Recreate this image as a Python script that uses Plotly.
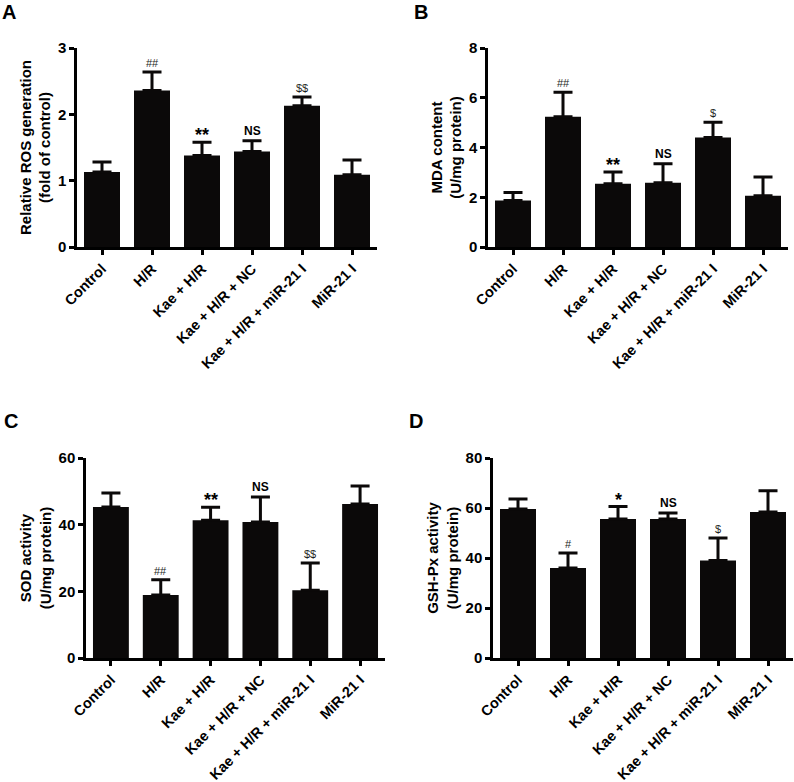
import plotly.graph_objects as go

categories = ["Control", "H/R", "Kae + H/R", "Kae + H/R + NC", "Kae + H/R + miR-21 I", "MiR-21 I"]

ros_mean = [1.13, 2.36, 1.38, 1.44, 2.13, 1.09]
ros_err = [0.15, 0.28, 0.20, 0.16, 0.13, 0.22]
ros_sig = ["", "##", "**", "NS", "$$", ""]

mda_mean = [1.87, 5.24, 2.54, 2.58, 4.40, 2.06]
mda_err = [0.32, 0.98, 0.48, 0.77, 0.62, 0.75]
mda_sig = ["", "##", "**", "NS", "$", ""]

sod_mean = [45.3, 18.9, 41.3, 40.8, 20.3, 46.2]
sod_err = [4.2, 4.6, 3.9, 7.5, 8.2, 5.4]
sod_sig = ["", "##", "**", "NS", "$$", ""]

gsh_mean = [59.6, 36.0, 55.6, 55.6, 39.0, 58.4]
gsh_err = [4.0, 6.0, 5.0, 2.4, 9.0, 8.5]
gsh_sig = ["", "#", "*", "NS", "$", ""]

panels = [
    dict(letter="A", mean=ros_mean, err=ros_err, sig=ros_sig,
         title="Relative ROS generation<br>(fold of control)", yr=[0, 3], dt=1),
    dict(letter="B", mean=mda_mean, err=mda_err, sig=mda_sig,
         title="MDA content<br>(U/mg protein)", yr=[0, 8], dt=2),
    dict(letter="C", mean=sod_mean, err=sod_err, sig=sod_sig,
         title="SOD activity<br>(U/mg protein)", yr=[0, 60], dt=20),
    dict(letter="D", mean=gsh_mean, err=gsh_err, sig=gsh_sig,
         title="GSH-Px activity<br>(U/mg protein)", yr=[0, 80], dt=20),
]

W, H = 794, 782
# plot area pixel boxes: (left, right, top, bottom)
boxes = [(77, 377, 48, 247), (488, 788, 48, 247), (86, 385, 458, 658), (493, 793, 458, 658)]
letter_pos = [(0, 12), (412, 12), (2, 421), (407, 421)]

FONT = "Liberation Sans, Arial, sans-serif"
fig = go.Figure()
annotations = []
layout = {}

for i, (p, box) in enumerate(zip(panels, boxes)):
    n = "" if i == 0 else str(i + 1)
    xa, ya = "x" + n, "y" + n
    fig.add_trace(go.Bar(
        x=categories, y=p["mean"], xaxis=xa, yaxis=ya,
        marker=dict(color="#0b0909", line=dict(width=0)),
        width=0.72,
        error_y=dict(type="data", array=p["err"], arrayminus=[0] * len(p["err"]),
                     symmetric=False, thickness=3, width=9.5, color="#0b0909"),
        showlegend=False,
    ))
    l, r, t, b = box
    layout["xaxis" + n] = dict(
        domain=[l / W, r / W], anchor=ya, range=[-0.5, 5.5], automargin=False,
        showline=True, linecolor="black", linewidth=2.5,
        ticks="outside", ticklen=5, tickwidth=2.5, tickcolor="black",
        tickangle=-45, tickfont=dict(family=FONT, size=14.5, color="black", weight="bold"),
        showgrid=False, zeroline=False, fixedrange=True,
    )
    layout["yaxis" + n] = dict(
        domain=[1 - b / H, 1 - t / H], anchor=xa, range=p["yr"], dtick=p["dt"], tick0=0,
        automargin=False,
        showline=True, linecolor="black", linewidth=2.5,
        ticks="outside", ticklen=5, tickwidth=2.5, tickcolor="black",
        tickfont=dict(family=FONT, size=15, color="black", weight="bold"),
        title=dict(text=p["title"], standoff=4,
                   font=dict(family=FONT, size=15, color="black", weight="bold")),
        showgrid=False, zeroline=False, fixedrange=True,
    )
    for c, m, e, s in zip(categories, p["mean"], p["err"], p["sig"]):
        if not s:
            continue
        if "*" in s:
            fnt = dict(family=FONT, size=18, color="black", weight="bold")
            ys = -5
        elif s == "NS":
            fnt = dict(family=FONT, size=12, color="black", weight="bold")
            ys = 1
        else:
            fnt = dict(family=FONT, size=11, color="#1e1e24", weight="normal")
            ys = 1
        annotations.append(dict(x=c, y=m + e, xref=xa, yref=ya, text=s, showarrow=False,
                                yanchor="bottom", yshift=ys, font=fnt))
    lx, ly = letter_pos[i]
    annotations.append(dict(x=lx / W, y=1 - ly / H, xref="paper", yref="paper",
                            text=p["letter"], showarrow=False, xanchor="left", yanchor="middle",
                            font=dict(family=FONT, size=20, color="black", weight="bold")))

fig.update_layout(
    template="none",
    width=W, height=H, margin=dict(l=0, r=0, t=0, b=0, autoexpand=False),
    paper_bgcolor="white", plot_bgcolor="white", bargap=0.28,
    annotations=annotations, **layout,
)
fig.write_html("out.html", config={"displayModeBar": False},
               post_script="document.body.style.margin='0px';")
